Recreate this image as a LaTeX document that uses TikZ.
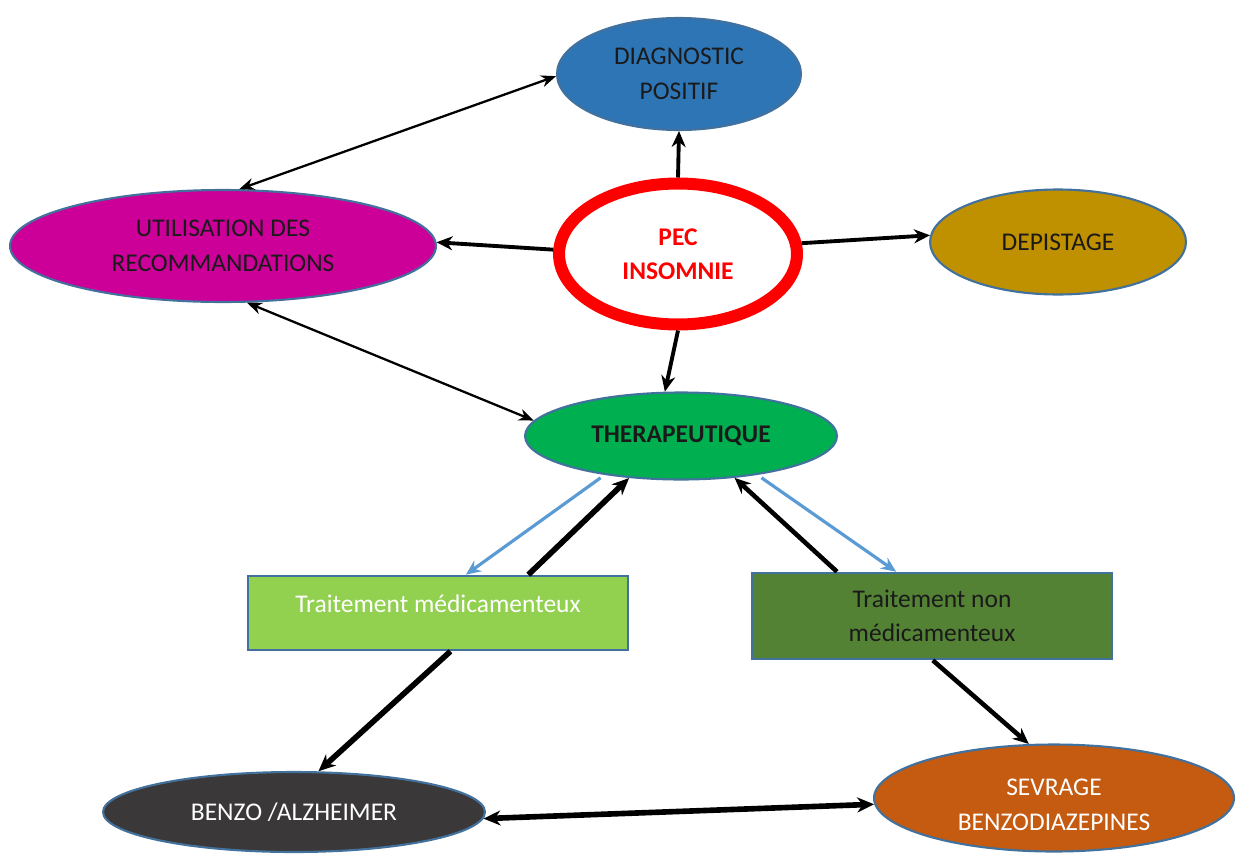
\documentclass[tikz,border=0pt]{standalone}
\usepackage{fontspec}
\setmainfont{Carlito}
\usetikzlibrary{shapes.geometric,arrows.meta}
\definecolor{diagblue}{HTML}{2E75B6}
\definecolor{edgeblue}{HTML}{41719C}
\definecolor{utilmag}{HTML}{CC0099}
\definecolor{depgold}{HTML}{BF9000}
\definecolor{thergreen}{HTML}{00B050}
\definecolor{medgreen}{HTML}{92D050}
\definecolor{nonmedgreen}{HTML}{548235}
\definecolor{benzogray}{HTML}{3A3838}
\definecolor{sevorange}{HTML}{C55A11}
\definecolor{lightarrow}{HTML}{5B9BD5}
\definecolor{txtdark}{HTML}{1A1A1A}
\tikzset{
  bubble/.style={ellipse, draw=edgeblue, line width=1.2pt, inner sep=0pt, align=center,
    font=\fontsize{14.5}{19.6}\selectfont},
  boxnode/.style={rectangle, draw=edgeblue, line width=1.5pt, inner sep=0pt},
  txt/.style={inner sep=0pt, align=center, font=\fontsize{14.5}{19.6}\selectfont},
  thin arrow/.style={line width=1.3pt, -{Stealth[length=0.3cm,width=0.24cm]}},
  thin both/.style={line width=1.3pt, {Stealth[length=0.3cm,width=0.24cm]}-{Stealth[length=0.3cm,width=0.24cm]}},
  mid arrow/.style={line width=2.2pt, -{Stealth[length=0.32cm,width=0.28cm]}},
  thick arrow/.style={line width=3.2pt, -{Stealth[length=0.34cm,width=0.3cm]}},
  thick both/.style={line width=3.2pt, {Stealth[length=0.34cm,width=0.3cm]}-{Stealth[length=0.34cm,width=0.3cm]}},
  blue arrow/.style={draw=lightarrow, line width=1.8pt, -{Stealth[length=0.3cm,width=0.26cm]}, color=lightarrow},
}
\begin{document}
\begin{tikzpicture}[x=0.02cm, y=-0.02cm]
\useasboundingbox[fill=white] (0,0) rectangle (1236,855);

% nodes
\node[bubble, fill=diagblue, minimum width=4.88cm, minimum height=2.24cm, text=txtdark] (diag) at (679,74) {DIAGNOSTIC\\POSITIF};
\node[bubble, fill=utilmag, minimum width=8.52cm, minimum height=2.24cm, text=txtdark] (util) at (223,246) {UTILISATION DES\\RECOMMANDATIONS};
\node[ellipse, draw=red, line width=0.24cm, fill=white, inner sep=0pt, align=center, minimum width=4.76cm, minimum height=2.82cm, text=red, font=\fontsize{14.5}{19.6}\selectfont\bfseries] (pec) at (678,254) {PEC\\INSOMNIE};
\node[bubble, fill=depgold, minimum width=5.12cm, minimum height=2.1cm, text=txtdark] (dep) at (1058,242) {DEPISTAGE};
\node[bubble, fill=thergreen, minimum width=6.24cm, minimum height=1.74cm, text=txtdark, font=\fontsize{14.5}{19.6}\selectfont\bfseries] (ther) at (681,436) {THERAPEUTIQUE};
\node[boxnode, fill=medgreen, minimum width=7.6cm, minimum height=1.48cm] (med) at (438,613) {};
\node[txt, text=white] (medt) at (438,604) {Traitement médicamenteux};
\node[boxnode, fill=nonmedgreen, minimum width=7.2cm, minimum height=1.72cm, align=center, font=\fontsize{14.5}{19.6}\selectfont, text=txtdark] (nonmed) at (932,616) {Traitement non\\médicamenteux};
\node[bubble, fill=benzogray, minimum width=7.64cm, minimum height=1.6cm, text=white] (benzo) at (294,812) {BENZO /ALZHEIMER};
\node[bubble, fill=sevorange, minimum width=7.2cm, minimum height=2.14cm] (sev) at (1054,798) {};
\node[txt, text=white] (sevt) at (1054,805) {SEVRAGE\\BENZODIAZEPINES};

% connectors
\draw[thin both] (util.74) -- (diag.181);
\draw[mid arrow] (pec.north) -- (diag.south);
\draw[mid arrow] (pec.178) -- (util.1);
\draw[mid arrow] (pec.5) -- (dep.177);
\draw[mid arrow] (pec.south) -- (ther.110);
\draw[thin both] (util.-67) -- (ther.174);
\draw[blue arrow, shorten <=0.1cm] (ther.-153) -- (med.54);
\draw[thick arrow] (med.23) -- (ther.-141);
\draw[mid arrow, line width=2.6pt] (nonmed.155) -- (ther.-38);
\draw[blue arrow, shorten <=0.1cm] (ther.-27) -- (nonmed.129);
\draw[thick arrow] (med.-72) -- (benzo.59);
\draw[mid arrow, line width=2.6pt] (nonmed.-89) -- (sev.115);
\draw[thick both] (benzo.-2) -- (sev.182);
\end{tikzpicture}
\end{document}
